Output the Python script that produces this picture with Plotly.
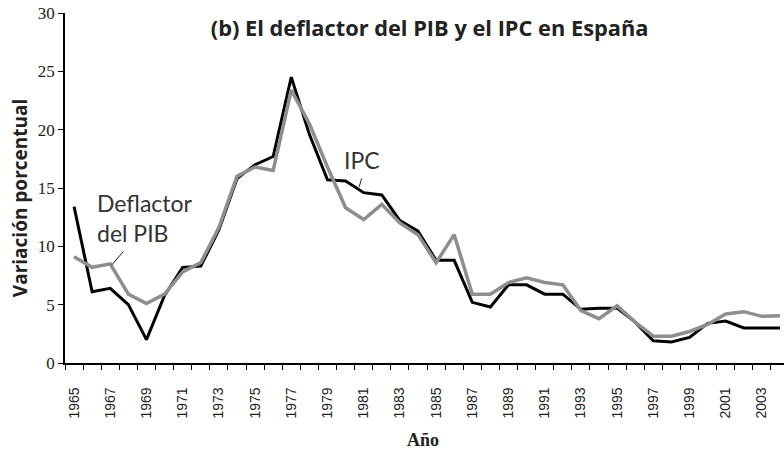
import plotly.graph_objects as go

years = list(range(1965, 2005))
ipc = [13.4, 6.1, 6.4, 5.0, 2.0, 5.8, 8.2, 8.3, 11.4, 15.8,
       17.0, 17.7, 24.5, 19.6, 15.7, 15.6, 14.6, 14.4, 12.2, 11.3,
       8.8, 8.8, 5.2, 4.8, 6.7, 6.7, 5.9, 5.9, 4.6, 4.7,
       4.7, 3.5, 1.9, 1.8, 2.2, 3.4, 3.6, 3.0, 3.0, 3.0]
deflactor = [9.1, 8.2, 8.5, 5.9, 5.1, 5.9, 7.8, 8.6, 11.6, 16.0,
             16.8, 16.5, 23.4, 20.5, 16.8, 13.3, 12.3, 13.6, 12.0, 11.0,
             8.6, 11.0, 5.9, 5.9, 6.9, 7.3, 6.9, 6.7, 4.5, 3.8,
             4.9, 3.5, 2.3, 2.3, 2.7, 3.3, 4.2, 4.4, 4.0, 4.05]
tick_years = list(range(1965, 2004, 2))

fig = go.Figure()
fig.add_trace(go.Scatter(x=years, y=ipc, mode="lines", name="IPC",
                         line=dict(color="#000000", width=3)))
fig.add_trace(go.Scatter(x=years, y=deflactor, mode="lines", name="Deflactor del PIB",
                         line=dict(color="#8e8e8e", width=3.5)))

fig.update_layout(
    width=784, height=450,
    margin=dict(l=65, r=0, t=13, b=87, autoexpand=False),
    plot_bgcolor="white", paper_bgcolor="white",
    showlegend=False,
    title=dict(text="<b>(b) El deflactor del PIB y el IPC en España</b>",
               x=0.548, xanchor="center", y=0.938, yanchor="middle",
               font=dict(family="Open Sans", size=21.8, color="#222222")),
)
fig.update_xaxes(
    range=[1964.5, 2004.22], automargin=False,
    tickmode="array", tickvals=tick_years, ticktext=[str(y) for y in tick_years],
    tickangle=-90, ticks="outside", ticklen=17, tickcolor="rgba(0,0,0,0)",
    tickfont=dict(family="Liberation Sans", size=14, color="#222222"),
    showline=True, linecolor="black", linewidth=1.5,
    showgrid=False, zeroline=False,
    minor=dict(tickmode="array", tickvals=[y - 0.5 for y in years] + [2004.5],
               ticks="outside", ticklen=5, tickcolor="black", tickwidth=1),
)
fig.update_yaxes(
    range=[0, 30], tickvals=[0, 5, 10, 15, 20, 25, 30], automargin=False,
    ticks="outside", ticklen=5, tickcolor="black",
    tickfont=dict(family="Liberation Serif", size=17, color="#222222"),
    showline=True, linecolor="black", linewidth=1.5,
    showgrid=False, zeroline=False,
)

# axis titles
fig.add_annotation(x=-0.0626, y=0.471, xref="paper", yref="paper",
                   text="<b>Variación porcentual</b>", textangle=-90, showarrow=False,
                   xanchor="center", yanchor="middle",
                   font=dict(family="Open Sans", size=19, color="#222222"))
fig.add_annotation(x=0.498, y=-0.22, xref="paper", yref="paper",
                   text="<b>Año</b>", showarrow=False,
                   xanchor="center", yanchor="middle",
                   font=dict(family="Liberation Serif", size=18, color="#222222"))

# series labels
fig.add_annotation(x=1968.9, y=12.4, xref="x", yref="y", text="Deflactor<br>del PIB",
                   showarrow=False, align="left", xanchor="center", yanchor="middle",
                   font=dict(family="Lato", size=23, color="#333333"))
fig.add_annotation(x=1967.08, y=8.4, xref="x", yref="y", text="",
                   showarrow=True, arrowhead=0, arrowwidth=1, arrowcolor="#222222",
                   ax=13, ay=-15)
fig.add_annotation(x=1980.9, y=17.4, xref="x", yref="y", text="IPC",
                   showarrow=False, xanchor="center", yanchor="middle",
                   font=dict(family="Lato", size=23, color="#333333"))
fig.add_annotation(x=1980.75, y=15.1, xref="x", yref="y", text="",
                   showarrow=True, arrowhead=0, arrowwidth=1, arrowcolor="#222222",
                   ax=3, ay=-10)

fig.write_html("out.html", config={"displayModeBar": False},
               post_script="document.body.style.margin='0';")
